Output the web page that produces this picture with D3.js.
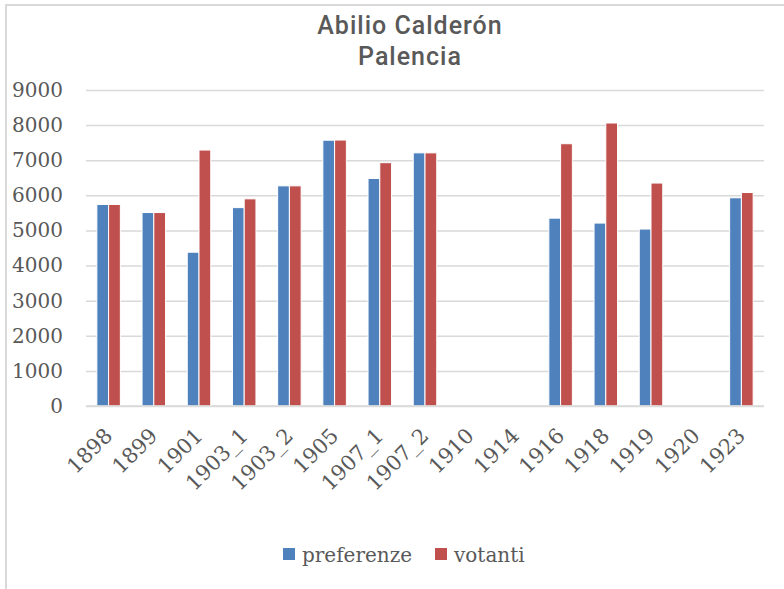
<!DOCTYPE html>
<html>
<head>
<meta charset="utf-8">
<script src="https://cdn.jsdelivr.net/npm/d3@7"></script>
<style>
    body { margin: 0; background: #fff; }
    .grid line { stroke: #d9d9d9; stroke-width: 1.5; }
    .grid .domain { display: none; }
    .axis text { font-family: "DejaVu Serif", serif; font-size: 20px; fill: #595959; }
    .axis.x text { font-size: 21px; }
    .axis .domain, .axis line { display: none; }
    .title { font-family: Roboto, "Liberation Sans", sans-serif; font-size: 25px; fill: #595959; font-weight: 500; letter-spacing: 1px; }
    .legend text { font-family: "DejaVu Serif", serif; font-size: 20px; fill: #595959; }
</style>
</head>
<body>
<div id="chart"></div>
<script>
// chart data
var categories = ["1898", "1899", "1901", "1903_1", "1903_2", "1905", "1907_1", "1907_2",
                  "1910", "1914", "1916", "1918", "1919", "1920", "1923"];
var preferenze = [5740, 5510, 4380, 5650, 6270, 7570, 6480, 7210,
                  null, null, 5350, 5210, 5040, null, 5930];
var votanti = [5740, 5510, 7290, 5900, 6270, 7575, 6930, 7210,
               null, null, 7470, 8060, 6350, null, 6080];
var seriesNames = ["preferenze", "votanti"];
var seriesColors = ["#4f81bd", "#c0504d"];
var yTicks = [0, 1000, 2000, 3000, 4000, 5000, 6000, 7000, 8000, 9000];

var W = 784, H = 589,
    margin = {top: 90, right: 20, bottom: 183, left: 86},
    width = W - margin.left - margin.right,
    height = H - margin.top - margin.bottom;

var svg = d3.select("#chart").append("svg")
    .attr("width", W)
    .attr("height", H);

// outer border of chart area
svg.append("path")
    .attr("d", "M6,589 V5 H784")
    .attr("fill", "none")
    .attr("stroke", "#d9d9d9")
    .attr("stroke-width", 2);

svg.append("text").attr("class", "title")
    .attr("x", 410).attr("y", 34)
    .attr("text-anchor", "middle")
    .text("Abilio Calderón");
svg.append("text").attr("class", "title")
    .attr("x", 410).attr("y", 65)
    .attr("text-anchor", "middle")
    .text("Palencia");

var g = svg.append("g")
    .attr("transform", "translate(" + margin.left + "," + margin.top + ")");

var xScale = d3.scaleBand()
    .domain(categories)
    .range([0, width]);

var xInner = d3.scaleBand()
    .domain(seriesNames)
    .range([0, xScale.bandwidth() * 0.52]);

var yScale = d3.scaleLinear()
    .domain([0, 9000])
    .range([height, 0]);

// grid lines
g.append("g").attr("class", "grid")
    .call(d3.axisLeft(yScale).tickValues(yTicks).tickSize(-width).tickFormat(""));

// y axis labels
g.append("g").attr("class", "axis y")
    .attr("transform", "translate(-23,0)")
    .call(d3.axisLeft(yScale).tickValues(yTicks).tickSize(0).tickPadding(0).tickFormat(d3.format("d")));

// bars
var rows = categories.map(function(c, i) {
    return {cat: c, values: [preferenze[i], votanti[i]]};
});

var groups = g.selectAll(".group")
    .data(rows)
    .enter().append("g")
    .attr("class", "group")
    .attr("transform", function(d) {
        return "translate(" + (xScale(d.cat) + xScale.bandwidth() * 0.24) + ",0)";
    });

groups.selectAll("rect")
    .data(function(d) {
        return d.values.map(function(v, j) { return {key: seriesNames[j], value: v, color: seriesColors[j]}; })
            .filter(function(e) { return e.value != null; });
    })
    .enter().append("rect")
    .attr("x", function(d) { return xInner(d.key); })
    .attr("width", xInner.bandwidth())
    .attr("y", function(d) { return yScale(d.value); })
    .attr("height", function(d) { return height - yScale(d.value); })
    .attr("fill", function(d) { return d.color; })
    .attr("stroke", "#fff")
    .attr("stroke-width", 1);

// x axis labels, rotated
var xAxisG = g.append("g").attr("class", "axis x")
    .attr("transform", "translate(0," + height + ")")
    .call(d3.axisBottom(xScale).tickSize(0).tickPadding(0));
xAxisG.selectAll("text")
    .attr("text-anchor", "end")
    .attr("dy", null)
    .attr("transform", "translate(5,31) rotate(-45)");

// baseline drawn on top
g.append("line")
    .attr("x1", 0).attr("x2", width)
    .attr("y1", height).attr("y2", height)
    .attr("stroke", "#d9d9d9")
    .attr("stroke-width", 1.5);

// legend
var legend = svg.append("g").attr("class", "legend");
var legendX = [283, 435];
seriesNames.forEach(function(name, i) {
    legend.append("rect")
        .attr("x", legendX[i]).attr("y", 548)
        .attr("width", 12).attr("height", 12)
        .attr("fill", seriesColors[i]);
    legend.append("text")
        .attr("x", legendX[i] + 19).attr("y", 562)
        .text(name);
});
</script>
</body>
</html>
